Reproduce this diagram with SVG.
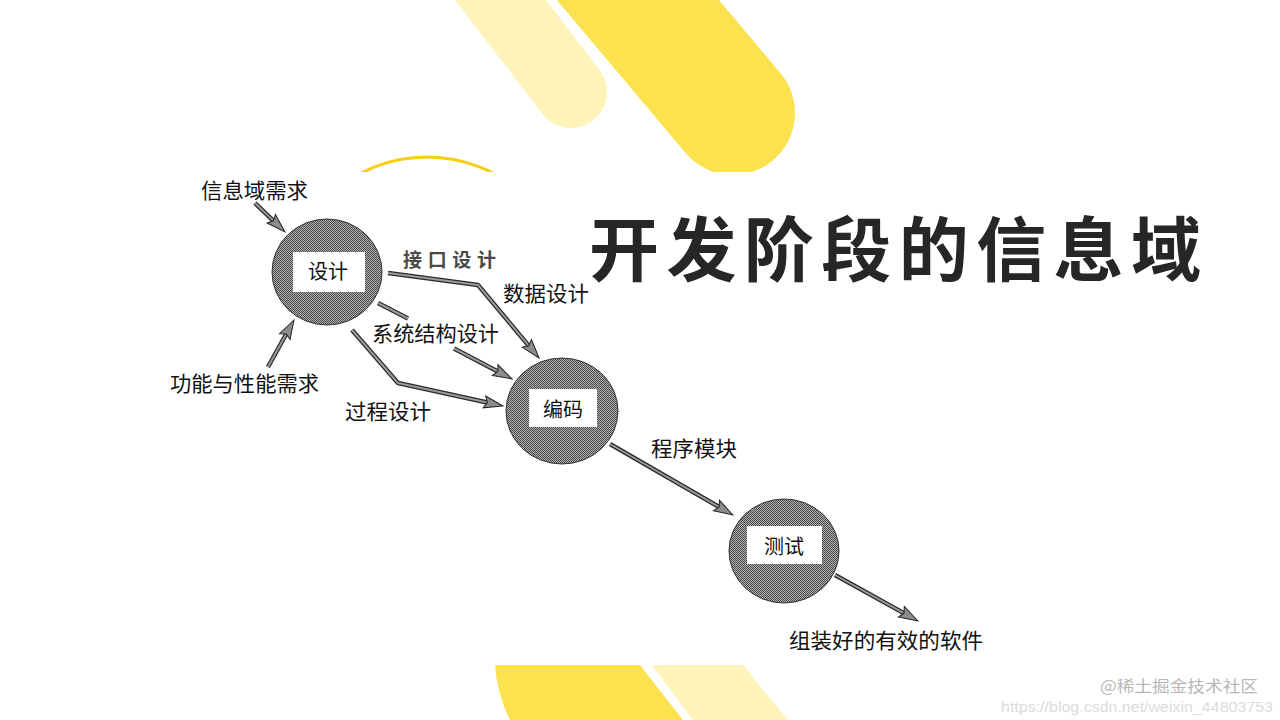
<svg xmlns="http://www.w3.org/2000/svg" width="1280" height="720" viewBox="0 0 1280 720">
<defs>
<pattern id="dither" width="2" height="2" patternUnits="userSpaceOnUse">
<rect width="2" height="2" fill="#b4b4b4"/>
<rect width="1" height="1" fill="#464646"/>
<rect x="1" y="1" width="1" height="1" fill="#464646"/>
</pattern>
<marker id="ah" markerUnits="userSpaceOnUse" markerWidth="30" markerHeight="20" refX="0" refY="0" viewBox="-15 -10 30 20" orient="auto" overflow="visible">
<path d="M8,0 L-11,-6 L-8,0 L-11,6 Z" fill="#8c8c8c" stroke="#222" stroke-width="1" stroke-linejoin="miter"/>
</marker>
<style>
.lbl{font-family:"Noto Sans CJK SC","Noto Sans",sans-serif;font-size:21px;fill:#111}
.nodeTxt{font-family:"Noto Sans CJK SC","Noto Sans",sans-serif;font-size:20px;fill:#111;text-anchor:middle}
.node{fill:url(#dither);stroke:#333;stroke-width:1}
.box{fill:#fff}
.sh{fill:none;stroke:#2a2a2a;stroke-width:4.5;stroke-linejoin:round}
.sf{fill:none;stroke:#9a9a9a;stroke-width:2;stroke-linejoin:round;marker-end:url(#ah)}
.sf0{fill:none;stroke:#9a9a9a;stroke-width:2;stroke-linejoin:round}
</style>
</defs>
<rect width="1280" height="720" fill="#fff"/>
<g id="decor">
<line x1="420" y1="-105" x2="571" y2="92" stroke="#fef3b8" stroke-width="72" stroke-linecap="round"/>
<line x1="520" y1="-140" x2="733" y2="113" stroke="#fde24f" stroke-width="124" stroke-linecap="round"/>
<circle cx="427" cy="301" r="144" fill="none" stroke="#f5cf10" stroke-width="3"/>
<rect x="150" y="172" width="870" height="493" fill="#fff"/>
<path d="M495,665 L640,665 L683,720 L510,720 Q497,694 495,665 Z" fill="#fde24f"/>
<path d="M652,665 L743,665 L788,720 L693,720 Z" fill="#fef3b8"/>
</g>
<text id="title" x="589" y="276" font-family="'Noto Sans CJK SC','Noto Sans',sans-serif" font-size="70" font-weight="700" fill="#262626" textLength="612" lengthAdjust="spacing">开发阶段的信息域</text>
<g id="connectors">
<path class="sh" d="M255,203 L279.2,226.4"/>
<path class="sf" d="M255,203 L279.2,226.4"/>
<path class="sh" d="M268,367 L290.1,327"/>
<path class="sf" d="M268,367 L290.1,327"/>
<path class="sh" d="M388,273 L478,285 L533.9,351.9"/>
<path class="sf" d="M388,273 L478,285 L533.9,351.9"/>
<path class="sh" d="M378,303 L408,318.5"/>
<path class="sf0" d="M378,303 L408,318.5"/>
<path class="sh" d="M454,348.5 L504.9,375.2"/>
<path class="sf" d="M454,348.5 L504.9,375.2"/>
<path class="sh" d="M352,330 L398,383 L495.2,404.3"/>
<path class="sf" d="M352,330 L398,383 L495.2,404.3"/>
<path class="sh" d="M610,444 L726,511"/>
<path class="sf" d="M610,444 L726,511"/>
<path class="sh" d="M835,575 L911,617.1"/>
<path class="sf" d="M835,575 L911,617.1"/>
</g>
<g id="n-design">
<ellipse class="node" cx="327" cy="272" rx="55" ry="53"/>
<rect class="box" x="293" y="252" width="72" height="40"/>
<text class="nodeTxt" x="328" y="279">设计</text>
</g>
<g id="n-code">
<ellipse class="node" cx="562" cy="411" rx="56" ry="53"/>
<rect class="box" x="529" y="389" width="68" height="38"/>
<text class="nodeTxt" x="563" y="417">编码</text>
</g>
<g id="n-test">
<ellipse class="node" cx="784" cy="551" rx="55" ry="52"/>
<rect class="box" x="747" y="526" width="75" height="38"/>
<text class="nodeTxt" x="784" y="554">测试</text>
</g>
<g id="labels">
<text class="lbl" x="201" y="198" textLength="107" lengthAdjust="spacingAndGlyphs">信息域需求</text>
<text x="403" y="267" font-family="'Noto Sans CJK SC',sans-serif" font-size="19" font-weight="700" fill="#4a4a4a" textLength="93" lengthAdjust="spacing">接口设计</text>
<text class="lbl" x="503" y="301" textLength="86" lengthAdjust="spacingAndGlyphs">数据设计</text>
<text class="lbl" x="372" y="341" textLength="127" lengthAdjust="spacingAndGlyphs">系统结构设计</text>
<text class="lbl" x="170" y="391" textLength="149" lengthAdjust="spacingAndGlyphs">功能与性能需求</text>
<text class="lbl" x="345" y="419" textLength="86" lengthAdjust="spacingAndGlyphs">过程设计</text>
<text class="lbl" x="651" y="456" textLength="86" lengthAdjust="spacingAndGlyphs">程序模块</text>
<text class="lbl" x="789" y="648" textLength="194" lengthAdjust="spacingAndGlyphs">组装好的有效的软件</text>
</g>
<g id="watermark">
<text x="1001" y="712" font-family="'Liberation Sans',sans-serif" font-size="14" fill="#dcdcdc" textLength="272" lengthAdjust="spacingAndGlyphs">https://blog.csdn.net/weixin_44803753</text>
<text x="1100" y="692" font-family="'Noto Sans CJK SC',sans-serif" font-size="16" fill="#b8b8b8" textLength="158" lengthAdjust="spacingAndGlyphs">@稀土掘金技术社区</text>
</g>
</svg>
